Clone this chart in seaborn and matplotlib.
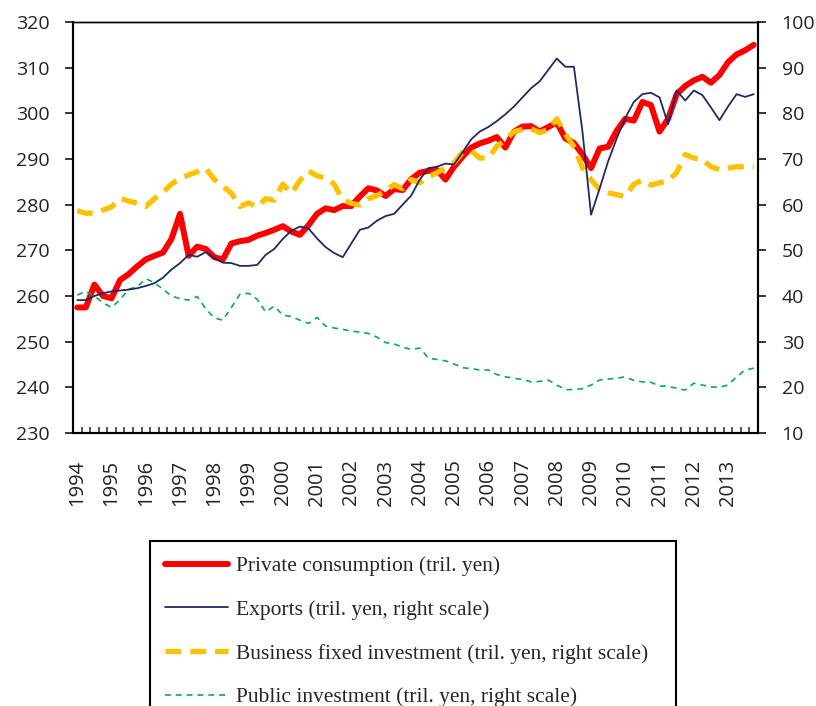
import numpy as np
import pandas as pd
import matplotlib
matplotlib.use("Agg")
import matplotlib.pyplot as plt
from matplotlib.ticker import FixedLocator
import seaborn as sns

years = [str(y) for y in range(1994, 2014)]
quarters = [f"{y}Q{q}" for y in range(1994, 2014) for q in range(1, 5)]

private_consumption = [
    257.5, 257.5, 262.5, 260.0, 259.5, 263.5, 264.8, 266.5,
    268.0, 268.8, 269.5, 272.5, 278.0, 268.8, 270.8, 270.3,
    268.5, 268.0, 271.5, 272.0, 272.3, 273.2, 273.8, 274.5,
    275.3, 274.1, 273.4, 275.5, 278.0, 279.2, 278.8, 279.7,
    279.7, 281.8, 283.6, 283.1, 281.9, 283.4, 283.2, 285.6,
    287.0, 287.4, 287.6, 285.5, 288.3, 290.5, 292.5, 293.4,
    294.0, 294.8, 292.5, 296.0, 297.1, 297.2, 296.0, 297.0,
    298.0, 294.5, 293.5, 291.0, 288.0, 292.3, 292.7, 296.2,
    298.8, 298.4, 302.5, 301.8, 296.0, 298.8, 304.2, 306.0,
    307.2, 308.0, 306.7, 308.4, 311.2, 312.9, 313.8, 315.0,
]
exports = [
    39.1, 39.1, 40.0, 40.6, 41.0, 41.2, 41.4, 41.7,
    42.2, 42.8, 44.0, 45.8, 47.2, 49.0, 48.6, 49.6,
    48.3, 47.3, 47.2, 46.6, 46.6, 46.8, 49.0, 50.3,
    52.5, 54.3, 55.2, 54.8, 52.6, 50.7, 49.4, 48.5,
    51.5, 54.5, 55.0, 56.5, 57.5, 58.0, 60.0, 62.0,
    65.5, 68.0, 68.3, 69.0, 68.8, 71.5, 74.3, 76.0,
    77.0, 78.3, 79.8, 81.5, 83.5, 85.5, 87.0, 89.5,
    92.0, 90.2, 90.2, 76.0, 57.8, 63.5, 69.5, 74.5,
    79.0, 82.5, 84.2, 84.5, 83.5, 77.6, 85.0, 82.8,
    85.0, 84.0, 81.3, 78.5, 81.5, 84.2, 83.6, 84.2,
]
business_investment = [
    58.7, 58.1, 58.2, 58.8, 59.5, 61.4, 60.8, 60.3,
    59.6, 61.3, 62.7, 64.5, 65.8, 66.5, 67.2, 68.0,
    65.5, 64.0, 62.5, 59.6, 60.4, 59.5, 61.3, 61.0,
    64.5, 62.5, 65.3, 67.4, 66.3, 65.8, 64.5, 61.0,
    60.3, 59.9, 61.3, 62.0, 63.0, 64.4, 63.5, 65.5,
    64.8, 66.0, 67.0, 68.0, 69.2, 71.5, 71.8, 70.2,
    70.2, 72.8, 74.2, 76.0, 76.5, 76.6, 75.8, 76.4,
    78.8, 75.5, 72.7, 68.0, 65.5, 63.3, 62.6, 62.2,
    61.8, 64.5, 65.4, 64.3, 64.8, 65.2, 67.0, 71.0,
    70.2, 69.9, 68.3, 67.7, 68.0, 68.3, 68.3, 68.3,
]
public_investment = [
    40.2, 41.0, 40.0, 38.5, 37.5, 39.2, 41.5, 42.0,
    43.8, 42.9, 41.5, 40.0, 39.4, 39.1, 39.9, 37.2,
    35.2, 34.7, 37.5, 40.4, 40.6, 39.3, 36.5, 37.8,
    35.8, 35.5, 34.7, 34.0, 35.3, 33.4, 33.0, 32.7,
    32.3, 32.1, 31.8, 31.0, 29.8, 29.5, 28.8, 28.3,
    28.6, 26.4, 26.1, 25.8, 25.1, 24.3, 24.1, 23.8,
    23.8, 22.8, 22.3, 22.0, 21.7, 21.2, 21.3, 21.6,
    20.5, 19.5, 19.5, 19.7, 20.5, 21.6, 21.8, 22.0,
    22.3, 21.5, 21.2, 21.1, 20.3, 20.2, 19.8, 19.4,
    20.9, 20.5, 20.1, 20.0, 20.5, 22.3, 23.8, 24.2,
]
left_ticks = [230, 240, 250, 260, 270, 280, 290, 300, 310, 320]
right_ticks = [10, 20, 30, 40, 50, 60, 70, 80, 90, 100]

labels = [
    "Private consumption (tril. yen)",
    "Exports (tril. yen, right scale)",
    "Business fixed investment (tril. yen, right scale)",
    "Public investment (tril. yen, right scale)",
]

df = pd.DataFrame({
    "quarter": quarters,
    "idx": np.arange(len(quarters)),
    "pc": private_consumption,
    "ex": exports,
    "bi": business_investment,
    "pi": public_investment,
})

sns.set_theme(style="white")
plt.rcParams["font.family"] = ["Open Sans", "DejaVu Sans"]

W, H = 816, 706
fig = plt.figure(figsize=(W / 100, H / 100), dpi=100)
ax = fig.add_axes([73 / W, 1 - 433 / H, (758 - 73) / W, (433 - 22) / H])
ax2 = ax.twinx()

sns.lineplot(data=df, x="idx", y="pc", ax=ax, color="#FF0000", lw=4.3,
             label=labels[0], legend=False, zorder=2)
sns.lineplot(data=df, x="idx", y="ex", ax=ax2, color="#1F2A66", lw=1.3,
             label=labels[1], legend=False, zorder=3)
sns.lineplot(data=df, x="idx", y="bi", ax=ax2, color="#FFC000", lw=3.8,
             label=labels[2], legend=False, zorder=2)
sns.lineplot(data=df, x="idx", y="pi", ax=ax2, color="#00B050", lw=1.2,
             label=labels[3], legend=False, zorder=1)

l_bi = ax2.get_lines()[1]
l_bi.set_dashes([3.0, 1.7])
l_pi = ax2.get_lines()[2]
l_pi.set_dashes([3.5, 3.0])

ax.set_xlim(-0.5, len(quarters) - 0.5)
ax.set_ylim(230, 320)
ax2.set_ylim(10, 100)
ax.set_yticks(left_ticks)
ax2.set_yticks(right_ticks)
ax.set_xticks(np.arange(0, len(quarters), 4))
ax.set_xticklabels(years, rotation=90, fontsize=14.5, color="#222222")
ax.xaxis.set_minor_locator(FixedLocator(np.arange(0.5, len(quarters) - 1, 1.0)))
ax.set_xlabel("")
ax.set_ylabel("")
ax2.set_ylabel("")

for a in (ax, ax2):
    for s in a.spines.values():
        s.set_color("black")
        s.set_linewidth(1.5)
        s.set_visible(True)
ax.spines["top"].set_linewidth(1.0)
ax2.spines["top"].set_linewidth(1.0)

ax.tick_params(axis="y", which="major", direction="out", length=6, width=1.3,
               pad=11, labelsize=14, labelcolor="#222222", left=True)
ax2.tick_params(axis="y", which="major", direction="out", length=6, width=1.3,
                pad=11, labelsize=14, labelcolor="#222222", right=True)
ax.tick_params(axis="x", which="major", length=0, pad=19)
ax.tick_params(axis="x", which="minor", direction="in", length=4, width=1.1,
               bottom=True)
ax.grid(False)
ax2.grid(False)

handles = ax.get_lines()[:1] + ax2.get_lines()[:3]
leg = fig.legend(
    handles, labels,
    loc="upper left",
    bbox_to_anchor=(150 / W, 0, (676 - 150) / W, 1 - 541 / H),
    mode="expand", borderaxespad=0,
    prop={"family": "Liberation Serif", "size": 15.5},
    frameon=True, fancybox=False, framealpha=1, edgecolor="black",
    borderpad=0.7, labelspacing=1.1, handlelength=2.9, handletextpad=0.4,
)
leg.get_frame().set_linewidth(1.5)

fig.savefig("out.png", dpi=100)
